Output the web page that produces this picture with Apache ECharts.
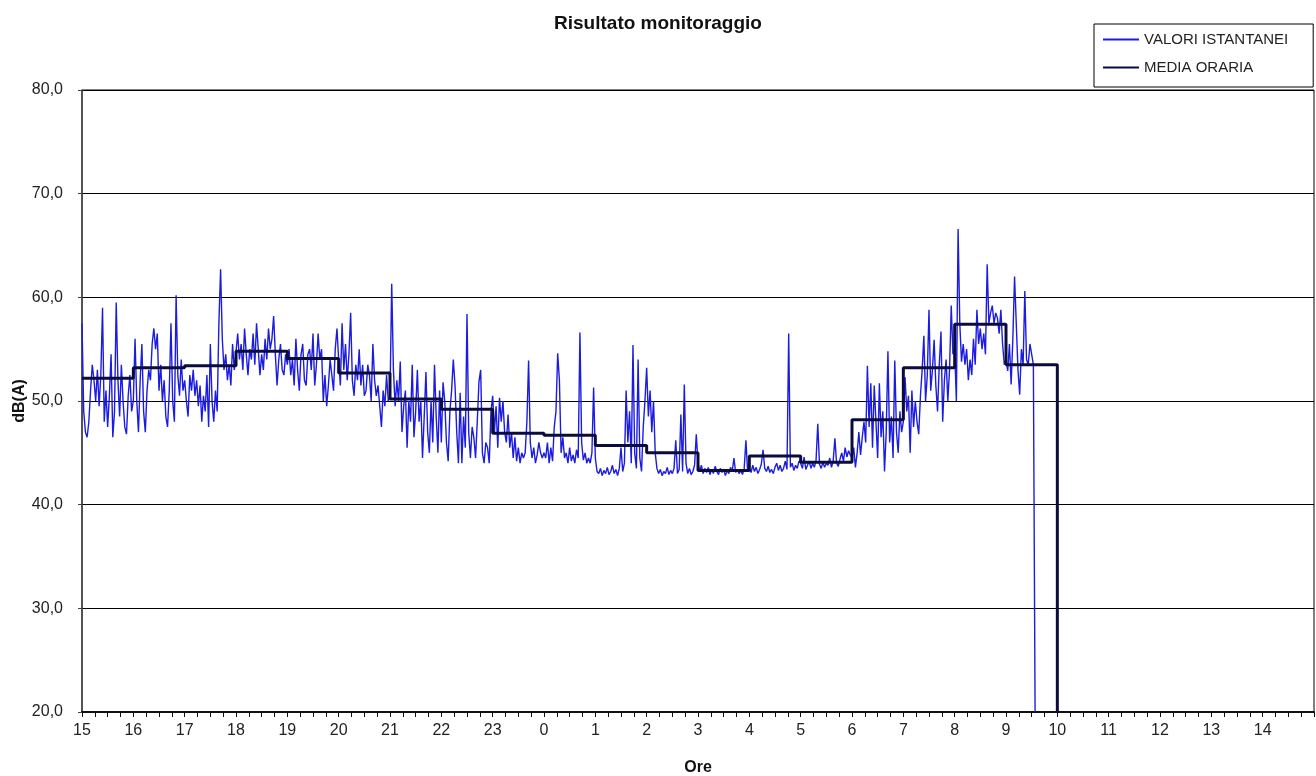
<!DOCTYPE html>
<html>
<head>
<meta charset="utf-8">
<title>Risultato monitoraggio</title>
<script src="https://cdn.jsdelivr.net/npm/echarts@6/dist/echarts.min.js"></script>
<style>
  html, body { margin: 0; padding: 0; background: #ffffff; }
  #chart { width: 1316px; height: 776px; }
</style>
</head>
<body>
<div id="chart"></div>
<script>
// Time axis: hours elapsed since the start of the survey (15:00), 24 h window
const startHour = 15;
const windowHours = 24;

// Instantaneous levels dB(A), one reading every 2 minutes, grouped by hour
const inst15 = [57.5,49,47,46.5,48,51,53.5,52,50,53,49.5,52.5,59,48,51,47.5,50.5,54.5,46.5,49,59.5,52,48.5,53.5,50,47.5,46.8,50.5,52.5,49];
const inst16 = [50,56,50,47,52,55.5,49,47,51,53,52,55.5,57,55,56.5,51,53.5,50,52,48.5,47.5,51,57.5,50,48,60.2,52.5,50.5,54,51];
const inst17 = [52,50,48.5,52.5,51,53,50.5,52,49.5,51.5,48,50.5,49,52.5,47.5,55.5,50,48,51,49,57.5,62.7,56,53,54.5,52,53.5,51.5,55.5,53];
const inst18 = [53,56.5,54,55.5,53,57,54.5,52.5,55,54,56.5,53.5,57.5,55,52.5,54.5,53,56,54,57,55,56,58.2,54.5,51.5,54,55.5,53,52.5,54.5];
const inst19 = [53.5,55,52.5,54,51.5,56,53,51,54.5,55.5,52,51.5,54.5,55,53,56.5,51.5,53.5,56.5,54,55,50,52.5,49.5,51.5,54,52.5,51,55,57];
const inst20 = [54,51.5,57.5,53,55.5,52,54.5,58.5,52,50.5,53.5,52,55,51.5,53.5,50.5,51,53.5,52.5,50,55.5,52,50.5,51.5,49.5,47.5,51,49.5,52.5,50];
const inst21 = [50.5,61.3,53,49.5,52,50,53.8,47,49.5,51,45.5,50,48,53.5,46.5,49,53,48,50,44.5,48.5,52.8,47,45,50,46,53.5,48.5,45,51];
const inst22 = [46,51.8,50,46,44.2,49,51,54,51.5,47,44,50.8,44,48.5,45.5,58.4,47,44.5,47.5,46.5,44.5,48,51.9,53,45,44,46,45.5,44,49];
const inst23 = [50.5,47,49.5,45.5,50.3,48,50,47,46,48.7,45.5,47,44.5,46.5,44.2,45.5,44,45,44.5,45,48,53.9,46,44.5,45.5,44,44.8,46,45,44.5];
const inst00 = [45,44.5,46,44,45.5,44.2,47.5,49,54.6,52,45,46.5,44.5,45,44,45.5,44.2,44.8,44,45.3,44.5,56.6,46,44.3,45,44,44.5,44,45,51.3];
const inst01 = [44.5,43.2,43,43.5,42.8,43.3,43,43.6,42.9,43.2,43.8,43,43.4,42.8,43.5,45.5,43.2,44,51,46,49,44,55.4,45,43.5,54,44.5,43.2,47.5,50];
const inst02 = [53.2,48.5,51,47,50,45,43.5,43,43.4,42.8,43.2,43,43.6,42.9,43.3,43,43.5,46.2,43,43.4,48.7,43.2,51.6,44,43,43.5,42.9,43.2,43.8,46.8];
const inst03 = [44,43.2,43.8,43,43.5,43.1,43.6,42.9,43.4,43,43.7,43.2,42.9,43.5,43.1,43.4,42.8,43.3,43,43.6,43.2,44.5,43.1,43.4,43,43.3,42.9,43.5,46.2,43.2];
const inst04 = [43.5,43.1,43.8,43.2,43.6,43,43.4,43.9,45.3,43.5,43.2,43.7,43.1,43.4,43,43.6,44,43.3,43.8,43.2,43.5,44.2,43.4,56.5,43.6,44,43.3,43.8,43.5,44.2];
const inst05 = [44,43.5,44.6,43.4,43.8,44.2,43.5,44,43.6,44.3,47.8,43.9,43.5,44.1,43.6,44,43.8,44.5,43.6,44.2,46.4,44,43.7,44.4,45,44.2,45.5,44.6,45.2,44.8];
const inst06 = [44.5,45.5,43.6,45,47,44.8,46.5,48,46,53.4,47.5,51.7,45.5,51.5,48,44.5,51.7,46.5,49,43.2,47,54.8,46,48.5,44.5,53.9,47,45,49,47];
const inst07 = [48,52.3,49,50.5,45,51,47.5,50,48,46.8,50.5,53,56.3,50,52.5,58.8,51,53,55.9,51.5,49,53.5,56.7,48,52,54,50,53,59.2,54.5];
const inst08 = [55,50,66.6,57.5,53.8,55.5,53.5,55,52,54,52.5,56,53.5,58.8,55.5,57,55,56.5,54.5,63.2,57.5,58.5,59.2,57.5,58.5,58,56.5,58.8,55.5,53.5];
const inst09 = [54,52.9,55.5,51.6,56,62,57.5,53,50.6,55,53.5,60.6,54,53.5,55.5,54.5,53.5,20];
const readingsPerHour = 30;

// Hourly mean levels dB(A), 15:00 ... 09:00, then the closing value at 10:00
const hourlyMean = [52.2,53.2,53.4,54.8,54.1,52.7,50.2,49.2,46.9,46.7,45.7,45.0,43.3,44.7,44.1,48.2,53.2,57.4,53.5];
const meanClosingValue = 20;

// Axis settings
const yMin = 20, yMax = 80, yStep = 10;

const instantByHour = [inst15, inst16, inst17, inst18, inst19, inst20, inst21, inst22, inst23,
                       inst00, inst01, inst02, inst03, inst04, inst05, inst06, inst07, inst08, inst09];

const instantPoints = [];
instantByHour.forEach((arr, h) => {
  arr.forEach((v, i) => instantPoints.push([h + i / readingsPerHour, v]));
});

const meanPoints = hourlyMean.map((v, h) => [h, v]);
meanPoints.push([hourlyMean.length, meanClosingValue]);

const FONT = "'Liberation Sans', Arial, sans-serif";

const chart = echarts.init(document.getElementById('chart'), null, { renderer: 'canvas' });
chart.setOption({
  animation: false,
  backgroundColor: '#ffffff',
  title: {
    text: 'Risultato monitoraggio',
    left: 'center',
    top: 9,
    textStyle: { fontFamily: FONT, fontSize: 19, fontWeight: 'bold', color: '#111' }
  },
  legend: {
    orient: 'vertical',
    left: 1094,
    top: 24,
    padding: [8, 25, 12, 8],
    itemGap: 13,
    itemWidth: 36,
    itemHeight: 14,
    borderColor: '#000',
    borderWidth: 1,
    backgroundColor: '#fff',
    itemStyle: { opacity: 0 },
    textStyle: { fontFamily: FONT, fontSize: 15, color: '#222' },
    data: ['VALORI ISTANTANEI', 'MEDIA ORARIA']
  },
  grid: {
    left: 82,
    right: 2,
    top: 90,
    bottom: 64,
    show: true,
    borderColor: '#000',
    borderWidth: 1,
    containLabel: false,
    outerBoundsMode: 'none'
  },
  xAxis: {
    type: 'value',
    min: 0,
    max: windowHours,
    interval: 1,
    name: 'Ore',
    nameLocation: 'middle',
    nameGap: 48,
    nameMoveOverlap: false,
    nameTextStyle: { fontFamily: FONT, fontSize: 16, fontWeight: 'bold', color: '#111' },
    axisLine: { show: true, lineStyle: { color: '#111', width: 2 } },
    axisTick: { show: true, length: 5, lineStyle: { color: '#111' } },
    minorTick: { show: true, splitNumber: 4, length: 5, lineStyle: { color: '#111' } },
    splitLine: { show: false },
    axisLabel: {
      margin: 11,
      fontFamily: FONT,
      fontSize: 16,
      color: '#222',
      formatter: v => (v >= windowHours ? '' : String((startHour + v) % 24))
    }
  },
  yAxis: {
    type: 'value',
    min: yMin,
    max: yMax,
    interval: yStep,
    name: 'dB(A)',
    nameLocation: 'middle',
    nameGap: 54,
    nameRotate: 90,
    nameMoveOverlap: false,
    nameTextStyle: { fontFamily: FONT, fontSize: 16, fontWeight: 'bold', color: '#111' },
    axisLine: { show: true, lineStyle: { color: '#444', width: 1.5 } },
    axisTick: { show: true, length: 4, lineStyle: { color: '#444' } },
    splitLine: { show: true, lineStyle: { color: '#000', width: 1 } },
    axisLabel: {
      margin: 19,
      fontFamily: FONT,
      fontSize: 16,
      color: '#222',
      formatter: v => v.toFixed(1).replace('.', ',')
    }
  },
  series: [
    {
      name: 'VALORI ISTANTANEI',
      type: 'line',
      data: instantPoints,
      showSymbol: false,
      symbol: 'none',
      lineStyle: { color: '#1c1ce0', width: 1.4 },
      itemStyle: { color: '#1c1ce0' },
      z: 2
    },
    {
      name: 'MEDIA ORARIA',
      type: 'line',
      data: meanPoints,
      step: 'end',
      showSymbol: false,
      symbol: 'none',
      lineStyle: { color: '#0c0c3c', width: 3 },
      itemStyle: { color: '#0c0c3c' },
      z: 3
    }
  ]
});
</script>
</body>
</html>
